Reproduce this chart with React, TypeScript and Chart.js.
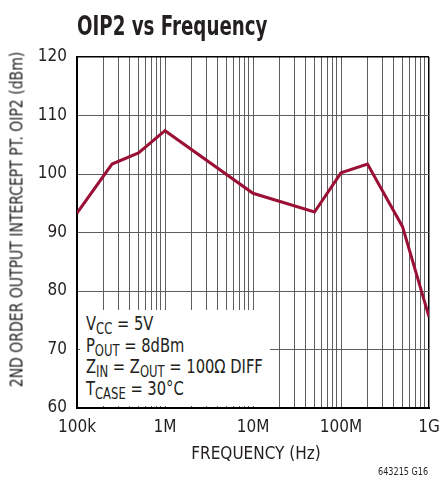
import React, { useEffect, useRef } from "react";
import { Chart, registerables } from "chart.js";

Chart.register(...registerables);

// ---- data ----
const freqHz = [1e5, 2.5e5, 5e5, 1e6, 1e7, 5e7, 1e8, 2e8, 5e8, 1e9];
const oip2dBm = [93.3, 101.7, 103.6, 107.4, 96.7, 93.5, 100.2, 101.7, 91.0, 75.6];

const xDecades = [1e5, 1e6, 1e7, 1e8, 1e9];
const xTickLabels = ["100k", "1M", "10M", "100M", "1G"];
const xMinorMultipliers = [2, 3, 4, 5, 6, 7, 8, 9];
const yTicks = [60, 70, 80, 90, 100, 110, 120];

const titleText = "OIP2 vs Frequency";
const xTitle = "FREQUENCY (Hz)";
const yTitle = "2ND ORDER OUTPUT INTERCEPT PT.  OIP2 (dBm)";
const footnote = "643215 G16";
const conditions: { t: string; sub?: boolean }[][] = [
  [{ t: "V" }, { t: "CC", sub: true }, { t: " = 5V" }],
  [{ t: "P" }, { t: "OUT", sub: true }, { t: " = 8dBm" }],
  [{ t: "Z" }, { t: "IN", sub: true }, { t: " = Z" }, { t: "OUT", sub: true }, { t: " = 100\u03A9 DIFF" }],
  [{ t: "T" }, { t: "CASE", sub: true }, { t: " = 30\u00B0C" }],
];

const FONT = "'Liberation Sans Narrow', 'DejaVu Sans Condensed', 'Arial Narrow', sans-serif";
const TEXT = "#231f20";
const GRID = "#5e5e5e";

export default function App() {
  const ref = useRef<HTMLCanvasElement | null>(null);

  useEffect(() => {
    if (!ref.current) return;
    const gridValues: number[] = [];
    xDecades.forEach((d, i) => {
      gridValues.push(d);
      if (i < xDecades.length - 1) xMinorMultipliers.forEach((m) => gridValues.push(d * m));
    });
    gridValues.sort((a, b) => a - b);
    const labelMap = new Map<number, string>();
    xDecades.forEach((d, i) => labelMap.set(d, xTickLabels[i]));

    const chart = new Chart(ref.current, {
      type: "line",
      data: {
        datasets: [
          {
            data: freqHz.map((f, i) => ({ x: f, y: oip2dBm[i] })),
            borderColor: "#9b1035",
            borderWidth: 3,
            pointRadius: 0,
            tension: 0,
            fill: false,
          },
        ],
      },
      options: {
        responsive: false,
        animation: false,
        devicePixelRatio: 1,
        layout: { padding: { top: 57, right: 14, left: 0, bottom: 0 } },
        plugins: { legend: { display: false }, tooltip: { enabled: false }, title: { display: false } },
        scales: {
          x: {
            type: "logarithmic",
            min: 1e5,
            max: 1e9,
            afterBuildTicks: (s: any) => {
              s.ticks = gridValues.map((v) => ({ value: v }));
            },
            afterFit: (s: any) => {
              s.height = 79;
              s.paddingRight = 0;
              s.paddingLeft = 0;
            },
            ticks: {
              autoSkip: false,
              maxRotation: 0,
              minRotation: 0,
              padding: 9,
              color: TEXT,
              font: { family: FONT, size: 17 },
              callback: (v: any) => labelMap.get(Number(v)) ?? "",
            },
            grid: {
              drawTicks: false,
              color: (c: any) => (c.tick && c.tick.value === 1e9 ? "#000" : GRID),
              lineWidth: (c: any) => (c.tick && c.tick.value === 1e9 ? 1.5 : 1),
            },
            border: { display: true, color: "#000", width: 2 },
          },
          y: {
            type: "linear",
            min: 60,
            max: 120,
            afterBuildTicks: (s: any) => {
              s.ticks = yTicks.map((v) => ({ value: v }));
            },
            afterFit: (s: any) => {
              s.width = 77;
            },
            ticks: {
              padding: 10,
              color: TEXT,
              font: { family: FONT, size: 17 },
              callback: (v: any) => String(v),
            },
            grid: {
              drawTicks: false,
              color: (c: any) => (c.tick && c.tick.value === 120 ? "#000" : GRID),
              lineWidth: (c: any) => (c.tick && c.tick.value === 120 ? 1.5 : 1),
            },
            border: { display: true, color: "#000", width: 2 },
          },
        },
      },
    } as any);
    return () => chart.destroy();
  }, []);

  const lineTop = (baseline: number, size: number) => baseline - 0.8465 * size;

  return (
    <div style={{ position: "absolute", left: 0, top: 0, width: 443, height: 487, fontFamily: FONT, color: TEXT, background: "#fff" }}>
      <canvas ref={ref} width={443} height={487} style={{ position: "absolute", left: 0, top: 0, width: 443, height: 487 }} />
      <div
        style={{
          position: "absolute",
          left: 77,
          top: lineTop(35, 26),
          fontSize: 26,
          lineHeight: "26px",
          fontWeight: "bold",
          whiteSpace: "nowrap",
          transform: "scaleX(0.78)",
          transformOrigin: "0 50%",
        }}
      >
        {titleText}
      </div>
      <div
        style={{
          position: "absolute",
          left: 17 - 200,
          top: 219 - 8.5,
          width: 400,
          height: 17,
          fontSize: 17,
          lineHeight: "17px",
          textAlign: "center",
          whiteSpace: "nowrap",
          transform: "rotate(-90deg) scaleX(0.915)",
          transformOrigin: "50% 50%",
        }}
      >
        {yTitle}
      </div>
      <div style={{ position: "absolute", left: 256 - 100, top: 453 - 8.5, width: 200, fontSize: 17, lineHeight: "17px", textAlign: "center", whiteSpace: "nowrap" }}>
        {xTitle}
      </div>
      <div
        style={{
          position: "absolute",
          right: 443 - 428,
          top: 471 - 5.5,
          fontSize: 11,
          lineHeight: "11px",
          whiteSpace: "nowrap",
          transform: "scaleX(0.82)",
          transformOrigin: "100% 50%",
        }}
      >
        {footnote}
      </div>
      <div style={{ position: "absolute", left: 80, top: 310, width: 190, height: 96, background: "#fff" }} />
      {conditions.map((line, i) => (
        <div
          key={i}
          style={{
            position: "absolute",
            left: 86,
            top: lineTop(330 + i * 21.7, 19),
            fontSize: 19,
            lineHeight: "19px",
            whiteSpace: "nowrap",
            transform: "scaleX(0.86)",
            transformOrigin: "0 50%",
          }}
        >
          {line.map((seg, j) =>
            seg.sub ? (
              <span key={j} style={{ fontSize: 15, verticalAlign: "-4px" }}>
                {seg.t}
              </span>
            ) : (
              <span key={j}>{seg.t}</span>
            )
          )}
        </div>
      ))}
    </div>
  );
}
